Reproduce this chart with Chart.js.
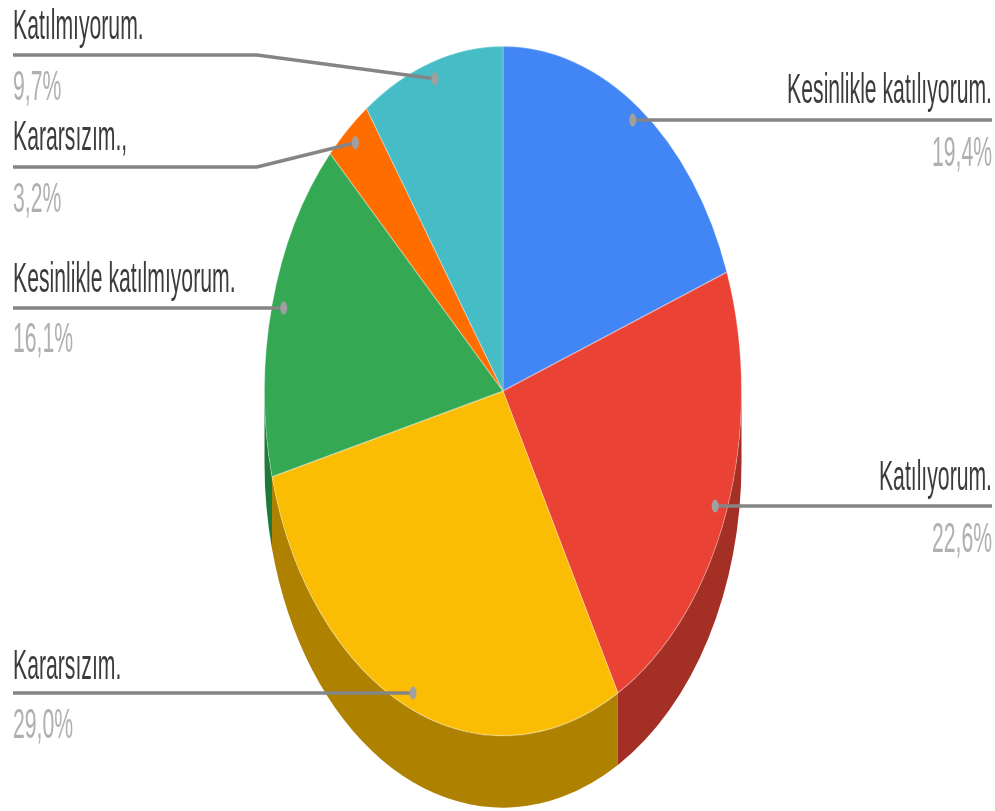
<!DOCTYPE html>
<html lang="tr">
<head>
<meta charset="utf-8">
<title>Pasta grafik</title>
<script src="https://cdn.jsdelivr.net/npm/chart.js@4/dist/chart.umd.min.js"></script>
<style>
  html, body { margin: 0; padding: 0; background: #fff; }
  canvas { display: block; }
</style>
</head>
<body>
<canvas id="pieChart" width="995" height="811"></canvas>
<script>
const categories = ['Kesinlikle katılıyorum.', 'Katılıyorum.', 'Kararsızım.', 'Kesinlikle katılmıyorum.', 'Kararsızım.,', 'Katılmıyorum.'];
const shares = [19.4, 22.6, 29.0, 16.1, 3.2, 9.7];
const shareLabels = ['19,4%', '22,6%', '29,0%', '16,1%', '3,2%', '9,7%'];
const topColors = ['#4285f4', '#ea4335', '#fbbc04', '#34a853', '#ff6d01', '#46bdc6'];
const sideColors = ['#2e5daa', '#a42f25', '#ae8200', '#1f7a3a', '#b24c01', '#31848a'];

// label placement: side, y of name baseline, leader y, y of share baseline
const labelSides = ['right', 'right', 'left', 'left', 'left', 'left'];
const nameBaselines = [103, 490, 679, 292, 150, 39];
const leaderLines = [120, 506, 693, 308, 167, 55];
const shareBaselines = [166, 552, 738, 352, 212, 100];

const LEFT_X = 13, RIGHT_X = 992, ELBOW_X = 257;
const STRETCH_Y = 1.445;   // the picture is stretched vertically
const TEXT_STRETCH_Y = 1.98;
const DEPTH = 72;

function drawSides(ctx, arcs) {
  arcs.forEach((arc, i) => {
    const a0 = Math.max(arc.startAngle, 0);
    const a1 = Math.min(arc.endAngle, Math.PI);
    if (a1 <= a0) return;
    ctx.beginPath();
    ctx.arc(arc.x, arc.y, arc.outerRadius, a0, a1);
    ctx.arc(arc.x, arc.y + DEPTH / STRETCH_Y, arc.outerRadius, a1, a0, true);
    ctx.closePath();
    ctx.fillStyle = sideColors[i];
    ctx.fill();
  });
}

function stretchedText(ctx, text, x, y, align, color) {
  ctx.save();
  ctx.translate(x, y);
  ctx.scale(1, TEXT_STRETCH_Y);
  ctx.textAlign = align;
  ctx.textBaseline = 'alphabetic';
  ctx.font = '21.2px "Liberation Sans", Arial, sans-serif';
  ctx.fillStyle = color;
  ctx.filter = 'blur(0.5px)';
  ctx.fillText(text, 0, 0);
  ctx.restore();
}

const pie3d = {
  id: 'pie3d',
  beforeDatasetsDraw(chart) {
    const ctx = chart.ctx;
    const arcs = chart.getDatasetMeta(0).data;
    ctx.save();
    ctx.translate(0, arcs[0].y);
    ctx.scale(1, STRETCH_Y);
    ctx.translate(0, -arcs[0].y);
    drawSides(ctx, arcs);
  },
  afterDatasetsDraw(chart) {
    const ctx = chart.ctx;
    ctx.restore();
    const arcs = chart.getDatasetMeta(0).data;

    arcs.forEach((arc, i) => {
      // leader ends on the slice's middle angle, just inside the rim
      const mid = (arc.startAngle + arc.endAngle) / 2;
      const px = arc.x + Math.cos(mid) * arc.outerRadius * 0.95;
      const py = arc.y + Math.sin(mid) * arc.outerRadius * 0.95 * STRETCH_Y;
      const right = labelSides[i] === 'right';
      const edge = right ? RIGHT_X : LEFT_X;
      const lineY = leaderLines[i];
      const bent = Math.abs(py - lineY) > 4;

      ctx.beginPath();
      ctx.moveTo(edge, lineY);
      if (bent) ctx.lineTo(ELBOW_X, lineY);
      ctx.lineTo(px, bent ? py : lineY);
      ctx.strokeStyle = '#858585';
      ctx.lineWidth = 3.5;
      ctx.stroke();

      ctx.beginPath();
      ctx.ellipse(px, bent ? py : lineY, 3.5, 6.5, 0, 0, Math.PI * 2);
      ctx.fillStyle = '#a0a0a0';
      ctx.fill();

      stretchedText(ctx, categories[i], edge, nameBaselines[i], right ? 'right' : 'left', '#3c3c3c');
      stretchedText(ctx, shareLabels[i], edge, shareBaselines[i], right ? 'right' : 'left', '#b0b0b0');
    });
  }
};

new Chart(document.getElementById('pieChart'), {
  type: 'pie',
  plugins: [pie3d],
  data: {
    labels: categories,
    datasets: [{
      data: shares,
      backgroundColor: topColors,
      borderColor: 'rgba(255,255,255,0.3)',
      borderWidth: 1,
      clip: false
    }]
  },
  options: {
    responsive: false,
    animation: false,
    layout: { padding: { left: 11, right: 0, top: 152, bottom: 181 } },
    plugins: {
      legend: { display: false },
      tooltip: { enabled: false }
    }
  }
});
</script>
</body>
</html>
